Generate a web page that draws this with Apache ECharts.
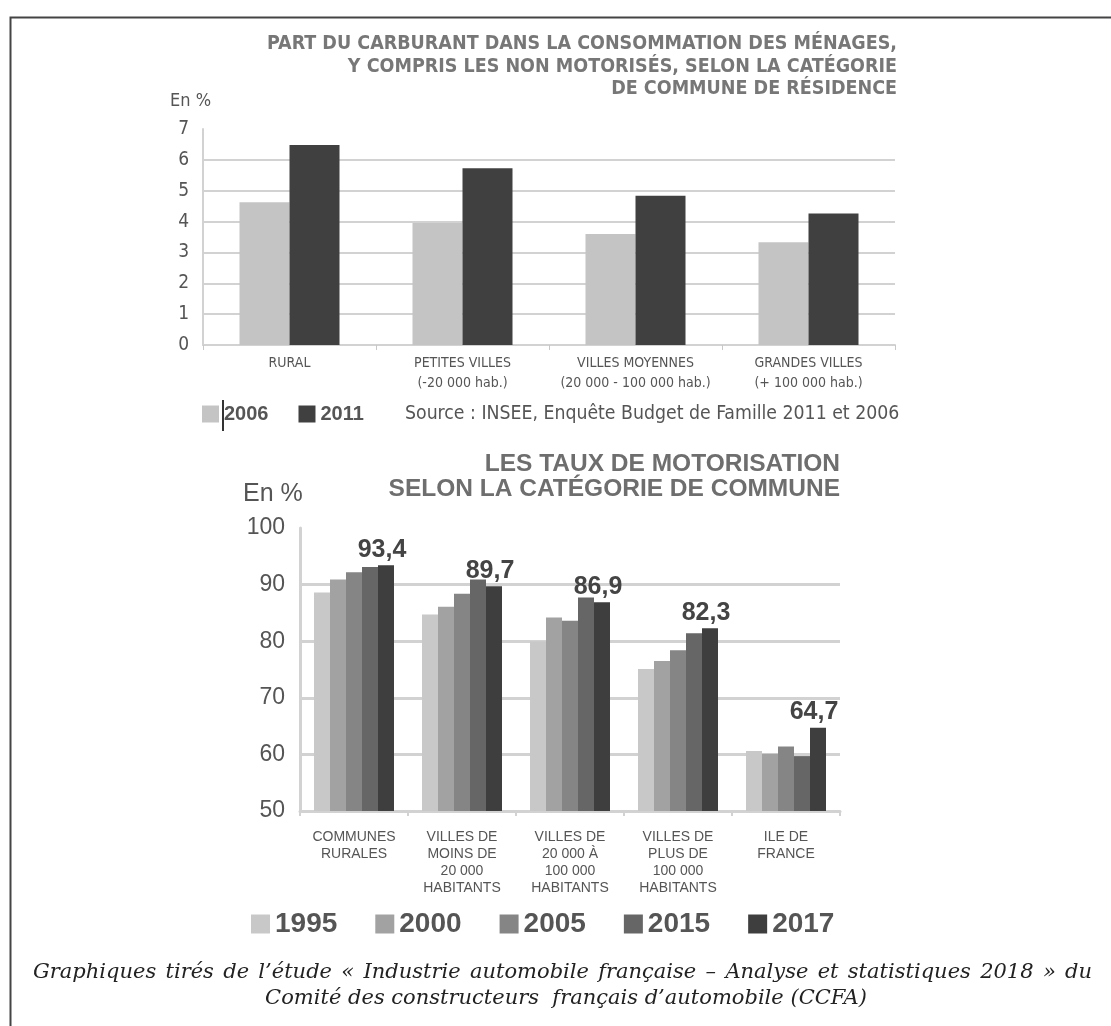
<!DOCTYPE html>
<html><head><meta charset="utf-8">
<script src="https://cdn.jsdelivr.net/npm/echarts@6/dist/echarts.min.js"></script>
<style>html,body{margin:0;padding:0;background:#fff}#c{width:1111px;height:1026px}</style>
</head><body><div id="c"></div>
<script>
// ---- Top chart data ----
const topCategories = ['RURAL', 'PETITES VILLES\n(-20 000 hab.)', 'VILLES MOYENNES\n(20 000 - 100 000 hab.)', 'GRANDES VILLES\n(+ 100 000 hab.)'];
const topYears = ['2006', '2011'];
const fuel2006 = [4.63, 3.95, 3.60, 3.33];
const fuel2011 = [6.48, 5.73, 4.84, 4.26];
const topTicks = [0, 1, 2, 3, 4, 5, 6, 7];
// ---- Bottom chart data ----
const botCategories = ['COMMUNES\nRURALES', 'VILLES DE\nMOINS DE\n20 000\nHABITANTS', 'VILLES DE\n20 000 À\n100 000\nHABITANTS', 'VILLES DE\nPLUS DE\n100 000\nHABITANTS', 'ILE DE\nFRANCE'];
const botYears = ['1995', '2000', '2005', '2015', '2017'];
const moto1995 = [88.6, 84.7, 80.0, 75.1, 60.6];
const moto2000 = [90.9, 86.1, 84.2, 76.5, 60.1];
const moto2005 = [92.2, 88.4, 83.6, 78.4, 61.4];
const moto2015 = [93.1, 90.9, 87.7, 81.4, 59.7];
const moto2017 = [93.4, 89.7, 86.9, 82.3, 64.7];
const botTicks = [50, 60, 70, 80, 90, 100];
// ---- Texts ----
const topTitle = 'PART DU CARBURANT DANS LA CONSOMMATION DES MÉNAGES,\nY COMPRIS LES NON MOTORISÉS, SELON LA CATÉGORIE\nDE COMMUNE DE RÉSIDENCE';
const botTitle = 'LES TAUX DE MOTORISATION\nSELON LA CATÉGORIE DE COMMUNE';
const sourceText = 'Source : INSEE, Enquête Budget de Famille 2011 et 2006';
const captionLine1 = 'Graphiques tirés de l’étude « Industrie automobile française – Analyse et statistiques 2018 » du';
const captionLine2 = 'Comité des constructeurs  français d’automobile (CCFA)';

const NARROW = '"Liberation Sans Narrow", "DejaVu Sans Condensed", "Liberation Sans", sans-serif';
const ARIAL = '"Liberation Sans", Arial, sans-serif';
const SERIF = '"DejaVu Serif", serif';

const topColors = ['#c4c4c4', '#404040'];
const botColors = ['#c8c8c8', '#a2a2a2', '#858585', '#666666', '#3e3e3e'];

const chart = echarts.init(document.getElementById('c'), null, {renderer: 'canvas'});

function gridColors(n) { const a = []; for (let i = 0; i < n - 1; i++) a.push(i === 0 ? 'rgba(0,0,0,0)' : '#d2d2d2'); a.push('rgba(0,0,0,0)'); return a; }

// justified caption line 1
const capFont = 21;
const mctx = document.createElement('canvas').getContext('2d');
mctx.font = 'italic ' + capFont + 'px "DejaVu Serif"';
const words = captionLine1.split(' ');
const widths = words.map(w => mctx.measureText(w).width);
const lineLeft = 33, lineRight = 1092;
const gap = (lineRight - lineLeft - widths.reduce((a, b) => a + b, 0)) / (words.length - 1);
const captionGraphics = [];
let cx = lineLeft;
words.forEach((w, i) => {
  captionGraphics.push({type: 'text', x: cx, y: 973, style: {text: w, fontFamily: SERIF, fontStyle: 'italic', fontSize: capFont, fill: '#222', verticalAlign: 'middle'}});
  cx += widths[i] + gap;
});
captionGraphics.push({type: 'text', x: 566, y: 999, style: {text: captionLine2, textAlign: 'center', verticalAlign: 'middle', fontFamily: SERIF, fontStyle: 'italic', fontSize: capFont, fill: '#222'}});

const option = {
  backgroundColor: '#fff',
  animation: false,
  grid: [
    {left: 203, right: 216, top: 129, bottom: 681},
    {left: 300, right: 271, top: 528, bottom: 215}
  ],
  legend: [
    {data: topYears, left: 197, top: 399, itemWidth: 17, itemHeight: 17, itemGap: 30, icon: 'rect',
     textStyle: {fontFamily: ARIAL, fontSize: 20, fontWeight: 'bold', color: '#555'}},
    {data: botYears, left: 246, top: 905, itemWidth: 19, itemHeight: 19, itemGap: 38, icon: 'rect',
     textStyle: {fontFamily: ARIAL, fontSize: 28, fontWeight: 'bold', color: '#555'}}
  ],
  xAxis: [
    {type: 'category', gridIndex: 0, data: topCategories,
     axisLine: {lineStyle: {color: '#d2d2d2', width: 2}},
     axisTick: {show: true, length: 5, lineStyle: {color: '#c8c8c8', width: 1}},
     axisLabel: {interval: 0, fontFamily: NARROW, fontSize: 14, color: '#555', margin: 8, lineHeight: 20}},
    {type: 'category', gridIndex: 1, data: botCategories,
     axisLine: {lineStyle: {color: '#d2d2d2', width: 3}},
     axisTick: {show: true, length: 5, lineStyle: {color: '#d2d2d2', width: 2}},
     axisLabel: {interval: 0, fontFamily: ARIAL, fontSize: 14, color: '#555', margin: 18, lineHeight: 17, verticalAlign: 'top'}}
  ],
  yAxis: [
    {type: 'value', gridIndex: 0, min: topTicks[0], max: topTicks[topTicks.length - 1], interval: 1,
     axisLine: {show: true, lineStyle: {color: '#d2d2d2', width: 2}},
     axisTick: {show: false},
     splitLine: {show: true, lineStyle: {color: gridColors(topTicks.length), width: 2}},
     axisLabel: {fontFamily: NARROW, fontSize: 19, color: '#555', margin: 14}},
    {type: 'value', gridIndex: 1, min: botTicks[0], max: botTicks[botTicks.length - 1], interval: 10,
     axisLine: {show: true, lineStyle: {color: '#d2d2d2', width: 3}},
     axisTick: {show: false},
     splitLine: {show: true, lineStyle: {color: gridColors(botTicks.length), width: 3}},
     axisLabel: {fontFamily: ARIAL, fontSize: 23, color: '#555', margin: 15}}
  ],
  series: [
    {name: topYears[0], type: 'bar', xAxisIndex: 0, yAxisIndex: 0, data: fuel2006, barWidth: 50, barGap: '0%', itemStyle: {color: topColors[0]}},
    {name: topYears[1], type: 'bar', xAxisIndex: 0, yAxisIndex: 0, data: fuel2011, barWidth: 50, barGap: '0%', itemStyle: {color: topColors[1]}},
    {name: botYears[0], type: 'bar', xAxisIndex: 1, yAxisIndex: 1, data: moto1995, barWidth: 16, barGap: '0%', itemStyle: {color: botColors[0]}},
    {name: botYears[1], type: 'bar', xAxisIndex: 1, yAxisIndex: 1, data: moto2000, barWidth: 16, barGap: '0%', itemStyle: {color: botColors[1]}},
    {name: botYears[2], type: 'bar', xAxisIndex: 1, yAxisIndex: 1, data: moto2005, barWidth: 16, barGap: '0%', itemStyle: {color: botColors[2]}},
    {name: botYears[3], type: 'bar', xAxisIndex: 1, yAxisIndex: 1, data: moto2015, barWidth: 16, barGap: '0%', itemStyle: {color: botColors[3]}},
    {name: botYears[4], type: 'bar', xAxisIndex: 1, yAxisIndex: 1, data: moto2017, barWidth: 16, barGap: '0%', itemStyle: {color: botColors[4]},
     label: {show: true, position: 'top', distance: 3, offset: [-4, 0], fontFamily: ARIAL, fontSize: 25, fontWeight: 'bold', color: '#444',
             formatter: p => String(p.value).replace('.', ',')}}
  ],
  graphic: [
    {type: 'rect', left: 8, top: 15, shape: {x: 0, y: 0, width: 1200, height: 1100}, style: {fill: 'none', stroke: '#444', lineWidth: 2}, silent: true},
    {type: 'text', x: 897, y: 33, style: {text: topTitle, textAlign: 'right', fontFamily: NARROW, fontSize: 19.5, fontWeight: 'bold', fill: '#777', lineHeight: 22.5}},
    {type: 'text', x: 170, y: 92, style: {text: 'En %', fontFamily: NARROW, fontSize: 18, fill: '#555'}},
    {type: 'line', shape: {x1: 223, y1: 400, x2: 223, y2: 431}, style: {stroke: '#333', lineWidth: 2}},
    {type: 'text', x: 405, y: 404, style: {text: sourceText, fontFamily: NARROW, fontSize: 19.3, fill: '#555'}},
    {type: 'text', x: 840, y: 452, style: {text: botTitle, textAlign: 'right', fontFamily: ARIAL, fontSize: 24.5, fontWeight: 'bold', fill: '#6e6e6e', lineHeight: 25}},
    {type: 'text', x: 243, y: 482, style: {text: 'En %', fontFamily: ARIAL, fontSize: 25, fill: '#555'}}
  ].concat(captionGraphics)
};
chart.setOption(option);
</script>
</body></html>
